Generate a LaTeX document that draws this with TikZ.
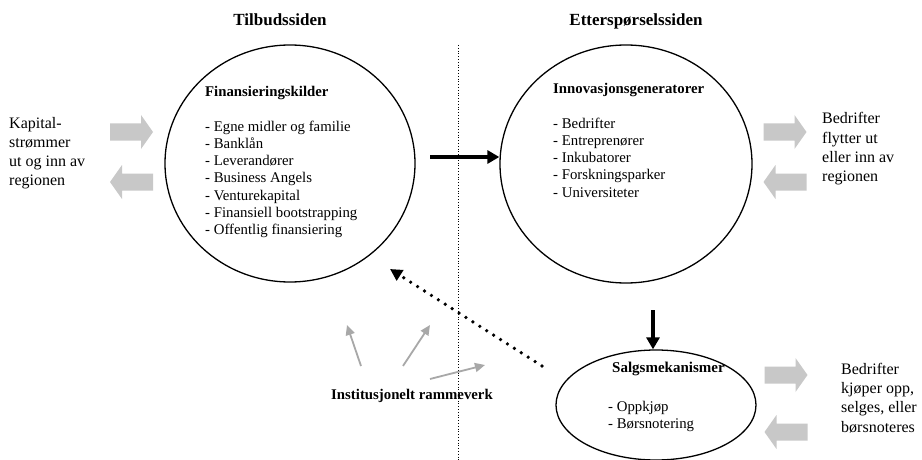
\documentclass[tikz,border=0pt]{standalone}
\usepackage{fontspec}
\setmainfont{Liberation Serif}
\usetikzlibrary{arrows.meta,shapes.geometric}
\definecolor{blockgray}{HTML}{C8C8C8}
\definecolor{arrowgray}{HTML}{A8A8A8}
\begin{document}
\begin{tikzpicture}[x=1pt,y=-1pt,
  ring/.style={draw, line width=1.3pt, shape=ellipse, inner sep=0pt},
  boldarrow/.style={line width=3.6pt, -{Triangle[length=12pt,width=13pt]}},
  grayarrow/.style={draw=arrowgray, line width=1.8pt, -{Triangle[length=10pt,width=9pt]}},
  dotarrow/.style={line width=3.6pt, dash pattern=on 0pt off 8.2pt, line cap=round, -{Triangle[length=12pt,width=12pt]}},
  divider/.style={line width=0.9pt, dash pattern=on 0.9pt off 1.9pt},
  side/.style={font=\fontsize{16}{19.2}\selectfont, align=left, anchor=north west, inner sep=0pt},
  list/.style={font=\fontsize{14.8}{17.3}\selectfont, align=left, anchor=north west, inner sep=0pt},
  header/.style={font=\fontsize{17}{20}\selectfont\bfseries, anchor=base, inner sep=0pt},
  blockright/.pic={\fill[blockgray] (-21.5,-8.5) -- (9.5,-8.5) -- (9.5,-17) -- (21.5,0) -- (9.5,17) -- (9.5,8.5) -- (-21.5,8.5) -- cycle;},
  blockleft/.pic={\fill[blockgray] (21.5,-8.5) -- (-9.5,-8.5) -- (-9.5,-17) -- (-21.5,0) -- (-9.5,17) -- (-9.5,8.5) -- (21.5,8.5) -- cycle;}
]
\useasboundingbox (0,0) rectangle (922,460);
\fill[white] (0,0) rectangle (922,460);

% headers
\node[header] (tilb) at (280,26) {Tilbudssiden};
\node[header] (etter) at (636,26) {Etterspørselssiden};

% divider
\coordinate (divtop) at (458,45);
\coordinate (divbot) at (458,460);
\draw[divider] (divtop) -- (divbot);

% circles
\node[ring, minimum width=250pt, minimum height=237pt] (fin) at (290,163.5) {};
\node[ring, minimum width=252pt, minimum height=238pt] (inn) at (626,164) {};
\begin{scope}
\clip (0,0) rectangle (922,460);
\node[ring, minimum width=200pt, minimum height=110pt] (sal) at (656,405) {};
\end{scope}

% circle texts
\node[list] (fintext) at (205,86) {\textbf{Finansieringskilder}\\[17.3pt]- Egne midler og familie\\- Banklån\\- Leverandører\\- Business Angels\\- Venturekapital\\- Finansiell bootstrapping\\- Offentlig finansiering};
\node[list] (inntext) at (553,83) {\textbf{Innovasjonsgeneratorer}\\[17.3pt]- Bedrifter\\- Entreprenører\\- Inkubatorer\\- Forskningsparker\\- Universiteter};
\node[font=\fontsize{15}{18}\selectfont\bfseries, anchor=base west, inner sep=0pt] (salhead) at (612,372) {Salgsmekanismer};
\node[list] (saltext) at (608,401) {- Oppkjøp\\- Børsnotering};

% side texts
\node[side] (kap) at (9,117) {Kapital-\\strømmer\\ut og inn av\\regionen};
\node[side] (flytt) at (822,112.4) {Bedrifter\\flytter ut\\eller inn av\\regionen};
\node[side] (kjop) at (841,363) {Bedrifter\\kjøper opp,\\selges, eller\\børsnoteres};

% block arrows
\pic at (131.5,132) {blockright};
\pic at (131.5,182) {blockleft};
\pic at (785,132) {blockright};
\pic at (785,182) {blockleft};
\pic at (786,375) {blockright};
\pic at (786,432) {blockleft};

% black arrows
\coordinate (h1) at (430,157);
\draw[boldarrow] (h1) -- (h1 -| inn.west);
\coordinate (v1) at (653,310);
\draw[boldarrow] (v1) -- (v1 |- sal.north);

% dotted arrow
\coordinate (d1) at (542,366);
\coordinate (d2) at (390,269);
\draw[dotarrow] (d1) -- (d2);

% institutional framework
\node[font=\fontsize{14.8}{17}\selectfont\bfseries, anchor=base, inner sep=0pt] (inst) at (412,399) {Institusjonelt rammeverk};
\coordinate (g1s) at (361,366); \coordinate (g1e) at (347,325);
\coordinate (g2s) at (403,366); \coordinate (g2e) at (430,325);
\coordinate (g3s) at (430,379); \coordinate (g3e) at (485,365);
\draw[grayarrow] (g1s) -- (g1e);
\draw[grayarrow] (g2s) -- (g2e);
\draw[grayarrow] (g3s) -- (g3e);
\end{tikzpicture}
\end{document}
